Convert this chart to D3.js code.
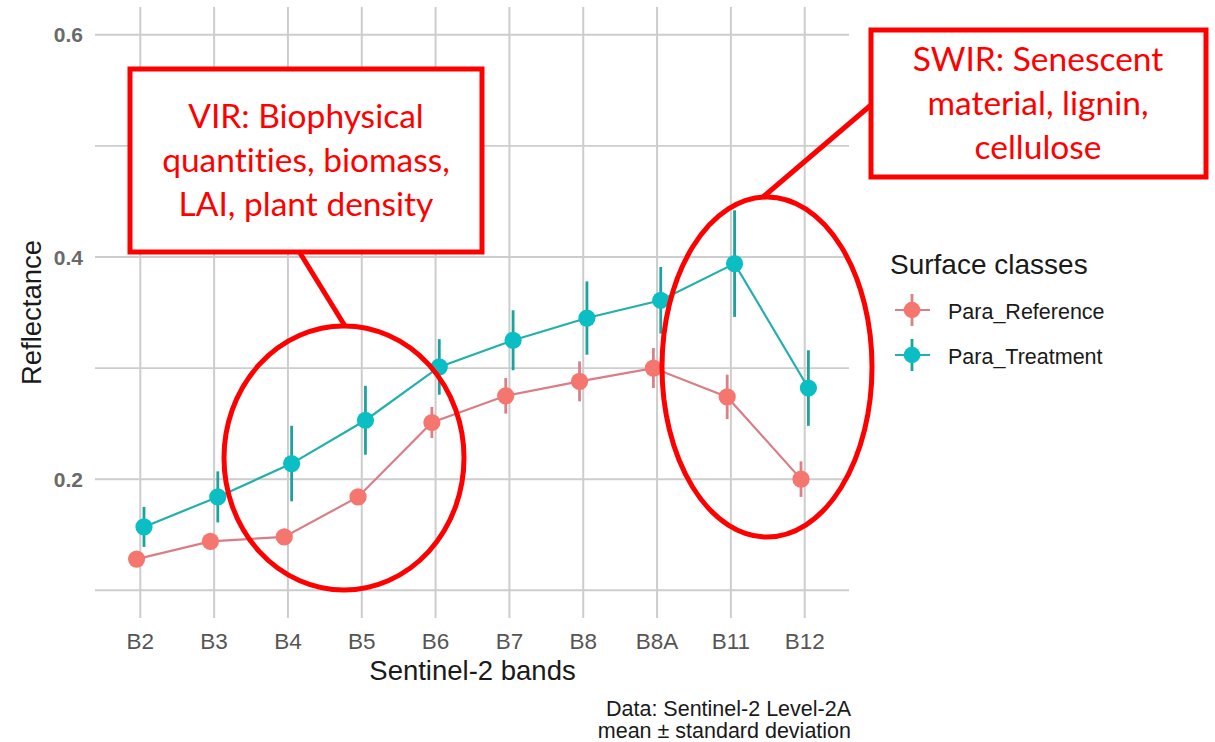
<!DOCTYPE html>
<html>
<head>
<meta charset="utf-8">
<script src="https://cdn.jsdelivr.net/npm/d3@7"></script>
<style>
  html, body { margin: 0; padding: 0; background: #ffffff; }
  svg { display: block; }
</style>
</head>
<body>
<svg id="chart" width="1215" height="742"></svg>
<script>
// ---------------- data ----------------
const bands = ["B2", "B3", "B4", "B5", "B6", "B7", "B8", "B8A", "B11", "B12"];
const refMean = [0.128, 0.144, 0.148, 0.184, 0.251, 0.275, 0.288, 0.300, 0.274, 0.200];
const refSd   = [0.005, 0.005, 0.005, 0.006, 0.014, 0.016, 0.018, 0.018, 0.020, 0.016];
const trtMean = [0.157, 0.184, 0.214, 0.253, 0.301, 0.325, 0.345, 0.361, 0.394, 0.282];
const trtSd   = [0.018, 0.023, 0.034, 0.031, 0.025, 0.027, 0.033, 0.030, 0.048, 0.034];
const seriesNames = ["Para_Reference", "Para_Treatment"];
const yMajorTicks = [0.2, 0.4, 0.6];
const yMinorTicks = [0.1, 0.3, 0.5];
const xTitle = "Sentinel-2 bands";
const yTitle = "Reflectance";
const legendTitle = "Surface classes";
const captionLines = ["Data: Sentinel-2 Level-2A", "mean \u00B1 standard deviation"];
const virText = ["VIR: Biophysical", "quantities, biomass,", "LAI, plant density"];
const swirText = ["SWIR: Senescent", "material, lignin,", "cellulose"];

// ---------------- styles ----------------
const styles = [
  { point: "#F5766F", line: "#DA7D86", bar: "#D98088" },
  { point: "#0BBEC3", line: "#22B0AC", bar: "#1DA39E" }
];
const red = "#FF0000";
const gridColor = "#CDCDCD";
const font = "'Liberation Sans', Arial, sans-serif";
const annFont = "Lato, 'Open Sans', sans-serif";

const svg = d3.select("#chart");
const panel = { left: 96, right: 849, top: 7, bottom: 618 };

const x = d3.scalePoint().domain(bands).range([panel.left, panel.right]).padding(0.6);
const y = d3.scaleLinear().domain([0.075, 0.625]).range([panel.bottom, panel.top]);
const dodge = x.step() * 0.05;

// grid
const g = svg.append("g");
g.selectAll(".hminor").data(yMinorTicks).join("line")
  .attr("x1", panel.left - 1).attr("x2", panel.right)
  .attr("y1", d => y(d)).attr("y2", d => y(d))
  .attr("stroke", gridColor).attr("stroke-width", 1.8);
g.selectAll(".hmajor").data(yMajorTicks).join("line")
  .attr("x1", panel.left - 1).attr("x2", panel.right)
  .attr("y1", d => y(d)).attr("y2", d => y(d))
  .attr("stroke", gridColor).attr("stroke-width", 2);
g.selectAll(".vmajor").data(bands).join("line")
  .attr("x1", d => x(d)).attr("x2", d => x(d))
  .attr("y1", panel.top).attr("y2", panel.bottom)
  .attr("stroke", gridColor).attr("stroke-width", 2);

// axes text
svg.append("g").selectAll("text").data(yMajorTicks).join("text")
  .attr("x", 83).attr("y", d => y(d)).attr("dy", "0.36em")
  .attr("text-anchor", "end").attr("font-family", font).attr("font-size", 21)
  .attr("font-weight", "bold").attr("fill", "#6a6a6a")
  .text(d => d.toFixed(1));
svg.append("g").selectAll("text").data(bands).join("text")
  .attr("x", d => x(d)).attr("y", 649)
  .attr("text-anchor", "middle").attr("font-family", font).attr("font-size", 22.5)
  .attr("fill", "#555555")
  .text(d => d);
svg.append("text").attr("x", (panel.left + panel.right) / 2).attr("y", 680)
  .attr("text-anchor", "middle").attr("font-family", font).attr("font-size", 27.5)
  .attr("fill", "#1a1a1a").text(xTitle);
svg.append("text")
  .attr("transform", `translate(41,${(panel.top + panel.bottom) / 2}) rotate(-90)`)
  .attr("text-anchor", "middle").attr("font-family", font).attr("font-size", 27.5)
  .attr("fill", "#1a1a1a").text(yTitle);
svg.append("g").selectAll("text").data(captionLines).join("text")
  .attr("x", 851).attr("y", (d, i) => 716 + i * 22)
  .attr("text-anchor", "end").attr("font-family", font).attr("font-size", 21.5)
  .attr("fill", "#1a1a1a").text(d => d);

// series
const series = [
  { name: seriesNames[0], mean: refMean, sd: refSd, off: -dodge, st: styles[0] },
  { name: seriesNames[1], mean: trtMean, sd: trtSd, off: dodge, st: styles[1] }
];
const lineGen = d3.line().x(d => d.x).y(d => d.y);
series.forEach(s => {
  s.pts = bands.map((b, i) => ({ x: x(b) + s.off, y: y(s.mean[i]), lo: y(s.mean[i] - s.sd[i]), hi: y(s.mean[i] + s.sd[i]) }));
});
series.forEach(s => {
  svg.append("path").datum(s.pts).attr("d", lineGen)
    .attr("fill", "none").attr("stroke", s.st.line).attr("stroke-width", 2.2);
});
series.forEach(s => {
  svg.append("g").selectAll("line").data(s.pts).join("line")
    .attr("x1", d => d.x).attr("x2", d => d.x).attr("y1", d => d.lo).attr("y2", d => d.hi)
    .attr("stroke", s.st.bar).attr("stroke-width", 2.8);
  svg.append("g").selectAll("circle").data(s.pts).join("circle")
    .attr("cx", d => d.x).attr("cy", d => d.y).attr("r", 8.6)
    .attr("fill", s.st.point);
});

// legend
const lg = svg.append("g");
lg.append("text").attr("x", 890).attr("y", 274).attr("font-family", font).attr("font-size", 28)
  .attr("fill", "#1a1a1a").text(legendTitle);
series.forEach((s, i) => {
  const cy = 310 + i * 45, cx = 912;
  lg.append("line").attr("x1", cx - 17).attr("x2", cx + 18).attr("y1", cy).attr("y2", cy)
    .attr("stroke", s.st.line).attr("stroke-width", 2.2);
  lg.append("line").attr("x1", cx).attr("x2", cx).attr("y1", cy - 16).attr("y2", cy + 16)
    .attr("stroke", s.st.bar).attr("stroke-width", 2.8);
  lg.append("circle").attr("cx", cx).attr("cy", cy).attr("r", 8.3).attr("fill", s.st.point);
  lg.append("text").attr("x", 948).attr("y", cy + 9).attr("font-family", font).attr("font-size", 21.5)
    .attr("fill", "#1a1a1a").text(s.name);
});

// annotations (overlay shapes)
const ann = svg.append("g").attr("fill", "none").attr("stroke", red).attr("stroke-width", 5);
ann.append("ellipse").attr("cx", 344).attr("cy", 458).attr("rx", 120).attr("ry", 132);
ann.append("ellipse").attr("cx", 767).attr("cy", 367).attr("rx", 105).attr("ry", 170);
ann.append("line").attr("x1", 300).attr("y1", 253).attr("x2", 345).attr("y2", 326);
ann.append("line").attr("x1", 871).attr("y1", 105).attr("x2", 763).attr("y2", 197);
ann.append("rect").attr("x", 130).attr("y", 69).attr("width", 352).attr("height", 183).attr("fill", "#ffffff");
ann.append("rect").attr("x", 871).attr("y", 30).attr("width", 335).attr("height", 147).attr("fill", "#ffffff");

function annText(lines, cx, y0) {
  svg.append("g").selectAll("text").data(lines).join("text")
    .attr("x", cx).attr("y", (d, i) => y0 + i * 44)
    .attr("text-anchor", "middle").attr("font-family", annFont).attr("font-size", 33.5)
    .style("font-variant-ligatures", "none")
    .attr("fill", red).text(d => d);
}
annText(virText, 306, 128);
annText(swirText, 1038, 71);
</script>
</body>
</html>
